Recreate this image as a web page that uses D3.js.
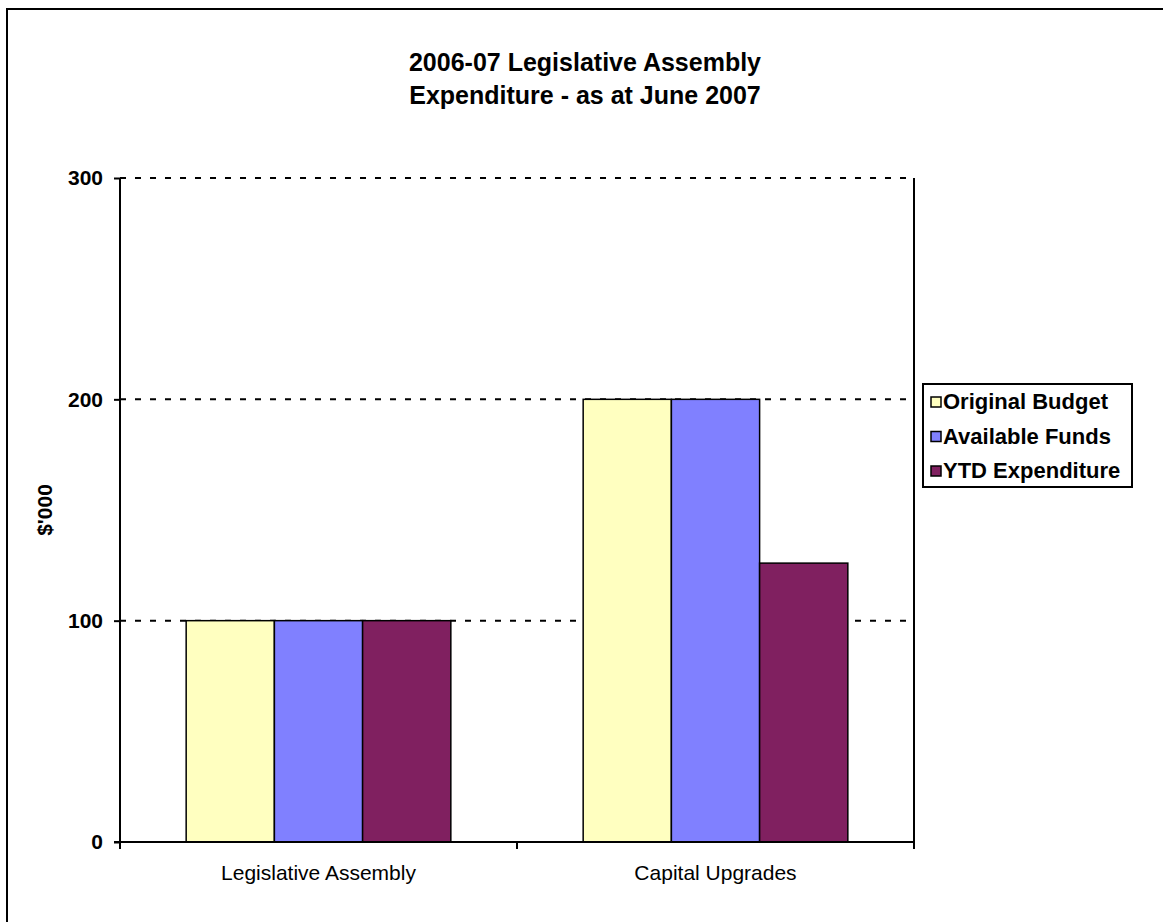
<!DOCTYPE html>
<html>
<head>
<meta charset="utf-8">
<script src="https://cdn.jsdelivr.net/npm/d3@7"></script>
<style>
  body { margin: 0; background: #fff; }
  svg { display: block; font-family: "Liberation Sans", Arial, sans-serif; }
</style>
</head>
<body>
<svg id="chart" width="1163" height="922"></svg>
<script>
const categories = ["Legislative Assembly", "Capital Upgrades"];
const seriesNames = ["Original Budget", "Available Funds", "YTD Expenditure"];
const originalBudget = [100, 200];
const availableFunds = [100, 200];
const ytdExpenditure = [100, 126];
const yTicks = [0, 100, 200, 300];
const titleLines = ["2006-07 Legislative Assembly", "Expenditure - as at June 2007"];
const yAxisTitle = "$'000";

const seriesValues = [originalBudget, availableFunds, ytdExpenditure];
const colors = ["#FFFFC0", "#8080FF", "#802060"];

const svg = d3.select("#chart");
const W = 1163, H = 922;
const m = { left: 120, right: 914, top: 178, bottom: 842 };

// outer border (left and top only visible)
svg.append("line").attr("x1", 7).attr("y1", 9).attr("x2", 7).attr("y2", H).attr("stroke", "#000").attr("stroke-width", 2);
svg.append("line").attr("x1", 6).attr("y1", 9).attr("x2", W).attr("y2", 9).attr("stroke", "#000").attr("stroke-width", 2);

const x0 = d3.scaleBand().domain(categories).range([m.left, m.right]).paddingInner(0).paddingOuter(0);
const x1 = d3.scaleBand().domain(seriesNames).range([0, x0.bandwidth()]).paddingOuter(0.75).paddingInner(0);
const y = d3.scaleLinear().domain([0, 300]).range([m.bottom, m.top]);

// gridlines
svg.append("g").selectAll("line").data(yTicks.filter(d => d > 0)).join("line")
  .attr("x1", m.left).attr("x2", m.right)
  .attr("y1", d => y(d)).attr("y2", d => y(d))
  .attr("stroke", "#000").attr("stroke-width", 2).attr("stroke-dasharray", "6,9");

// right border of plot
svg.append("line").attr("x1", m.right).attr("x2", m.right).attr("y1", m.top).attr("y2", m.bottom)
  .attr("stroke", "#000").attr("stroke-width", 2);

// bars
const groups = svg.append("g").selectAll("g").data(categories).join("g")
  .attr("transform", d => `translate(${x0(d)},0)`);
groups.selectAll("rect").data((c, ci) => seriesNames.map((s, si) => ({ s, si, v: seriesValues[si][ci] }))).join("rect")
  .attr("x", d => x1(d.s))
  .attr("width", x1.bandwidth())
  .attr("y", d => y(d.v))
  .attr("height", d => y(0) - y(d.v))
  .attr("fill", d => colors[d.si])
  .attr("stroke", "#000").attr("stroke-width", 1.5);

// y axis
const yAxis = d3.axisLeft(y).tickValues(yTicks).tickSize(6).tickPadding(11).tickFormat(d3.format("d"));
const gy = svg.append("g").attr("transform", `translate(${m.left},0)`).call(yAxis);
gy.select(".domain").attr("stroke", "#000").attr("stroke-width", 2).attr("d", `M0,${m.top}V${m.bottom}`);
gy.selectAll(".tick line").attr("stroke", "#000").attr("stroke-width", 2);
gy.selectAll(".tick text").attr("font-size", 21).attr("font-weight", "bold").attr("fill", "#000")
  .attr("font-family", "Liberation Sans, Arial, sans-serif");

// x axis
const gx = svg.append("g").attr("transform", `translate(0,${m.bottom})`);
gx.append("line").attr("x1", m.left - 6).attr("x2", m.right).attr("y1", 0).attr("y2", 0)
  .attr("stroke", "#000").attr("stroke-width", 2);
const boundaries = categories.map(c => x0(c)).concat([x0(categories[categories.length - 1]) + x0.bandwidth()]);
gx.selectAll("line.tk").data(boundaries).join("line").attr("class", "tk")
  .attr("x1", d => d).attr("x2", d => d).attr("y1", 0).attr("y2", 7)
  .attr("stroke", "#000").attr("stroke-width", 2);
gx.selectAll("text").data(categories).join("text")
  .attr("x", d => x0(d) + x0.bandwidth() / 2).attr("y", 38)
  .attr("text-anchor", "middle").attr("font-size", 21).attr("fill", "#000")
  .text(d => d);

// y axis title
svg.append("text").attr("transform", "translate(52,510) rotate(-90)")
  .attr("text-anchor", "middle").attr("font-size", 21).attr("font-weight", "bold").text(yAxisTitle);

// title
svg.append("g").selectAll("text").data(titleLines).join("text")
  .attr("x", 585).attr("y", (d, i) => 71 + i * 33)
  .attr("text-anchor", "middle").attr("font-size", 25).attr("font-weight", "bold").text(d => d);

// legend
const lg = svg.append("g").attr("transform", "translate(923,384)");
lg.append("rect").attr("width", 209).attr("height", 103).attr("fill", "#fff").attr("stroke", "#000").attr("stroke-width", 2);
const items = lg.selectAll("g").data(seriesNames).join("g")
  .attr("transform", (d, i) => `translate(8,${25 + i * 34.5})`);
items.append("rect").attr("x", 0).attr("y", -12).attr("width", 10).attr("height", 10)
  .attr("fill", (d, i) => colors[i]).attr("stroke", "#000").attr("stroke-width", 1.5);
items.append("text").attr("x", 12).attr("y", 0).attr("font-size", 22).attr("font-weight", "bold").text(d => d);
</script>
</body>
</html>
